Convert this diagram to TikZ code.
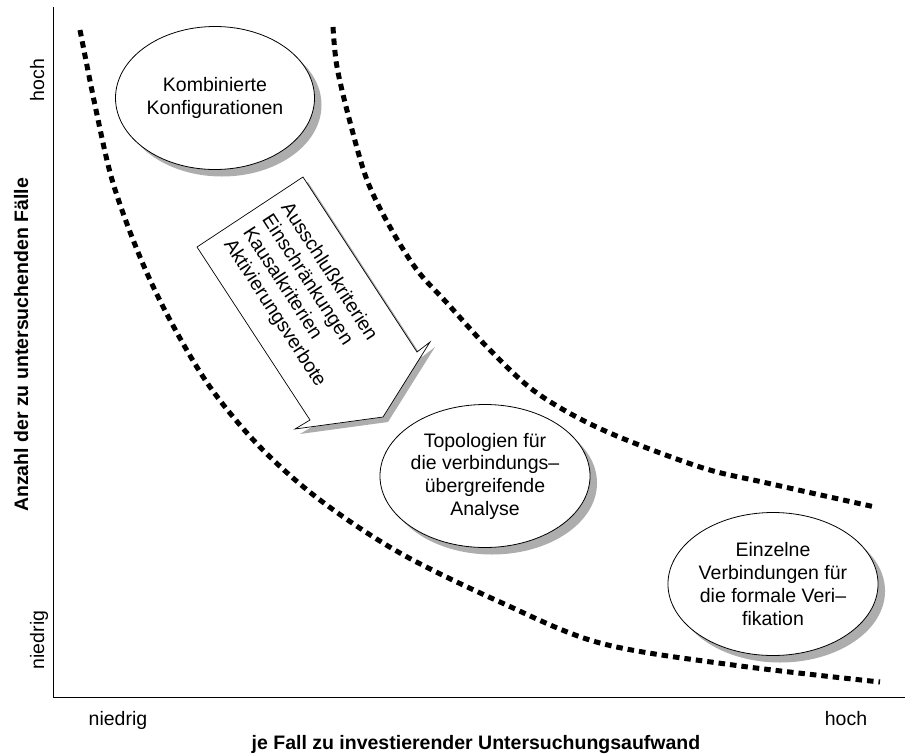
\documentclass[tikz,border=0pt]{standalone}
\usepackage{fontspec}
\setmainfont{Liberation Sans}
\usetikzlibrary{shapes.geometric,shadows}

\begin{document}
\begin{tikzpicture}[x=1pt,y=-1pt,
  txt/.style={font=\fontsize{19.5}{22.7}\selectfont},
  bubble/.style={txt, ellipse, draw, line width=0.8pt, fill=white,
    minimum width=199pt, minimum height=143pt, inner sep=0pt, align=center,
    drop shadow={shadow xshift=7pt, shadow yshift=-7pt, fill=black!32, opacity=1}},
  bound/.style={line width=5pt, dash pattern=on 6.5pt off 5pt},
  axisline/.style={line width=0.9pt},
  ticklabel/.style={font=\fontsize{19.5}{22}\selectfont, inner sep=0pt},
  axislabel/.style={font=\bfseries\fontsize{19.5}{22}\selectfont, inner sep=0pt},
  filterarrow/.style={draw, line width=0.7pt, fill=white},
  arrowshadow/.style={fill=black!32}
]
\useasboundingbox (0,0) rectangle (905,753);

% axes
\coordinate (ytop) at (53,7);
\coordinate (orig) at (53,697);
\coordinate (xend) at (905,697);
\draw[axisline] (ytop) -- (orig) -- (xend);

% axis labels
\node[ticklabel, rotate=90, anchor=base] (yhigh) at (44,80) {hoch};
\node[ticklabel, rotate=90, anchor=base] (ylow) at (44,640) {niedrig};
\node[axislabel, rotate=90, anchor=base] (ytitle) at (28,345) {Anzahl der zu untersuchenden Fälle};
\node[ticklabel, anchor=base] (xlow) at (118,725) {niedrig};
\node[ticklabel, anchor=base] (xhigh) at (846,725) {hoch};
\node[axislabel, anchor=base] (xtitle) at (476,749) {je Fall zu investierender Untersuchungsaufwand};

% region boundaries
\draw[bound] plot[smooth, tension=0.55] coordinates {(80,30) (96,110) (113,183) (140,257) (170,320) (210,387) (260,447) (320,500) (400,553) (500,602) (600,643) (733,665) (880,682)};
\draw[bound] plot[smooth, tension=0.55] coordinates {(333,27) (337,67) (350,122) (367,180) (390,227) (417,270) (447,303) (490,350) (537,393) (603,430) (700,467) (767,483) (875,507)};

% reduction arrow
\fill[arrowshadow, shift={(5,5)}] (303,177) -- (417,352) -- (430,342) -- (383,417) -- (295,429) -- (310,420) -- (197,247) -- cycle;
\draw[filterarrow] (303,177) -- (417,352) -- (430,342) -- (383,417) -- (295,429) -- (310,420) -- (197,247) -- cycle;
\node[txt, rotate=-57, align=left, inner sep=0pt] (criteria) at (303,295)
  {Ausschlußkriterien\\Einschränkungen\\Kausalkriterien\\Aktivierungsverbote};

% case classes
\node[bubble] (combined) at (215,98) {Kombinierte\\Konfigurationen};
\node[bubble] (topo) at (485,476) {Topologien für\\die verbindungs–\\übergreifende\\Analyse};
\node[bubble] (single) at (773,584) {Einzelne\\Verbindungen für\\die formale Veri–\\fikation};
\end{tikzpicture}
\end{document}
